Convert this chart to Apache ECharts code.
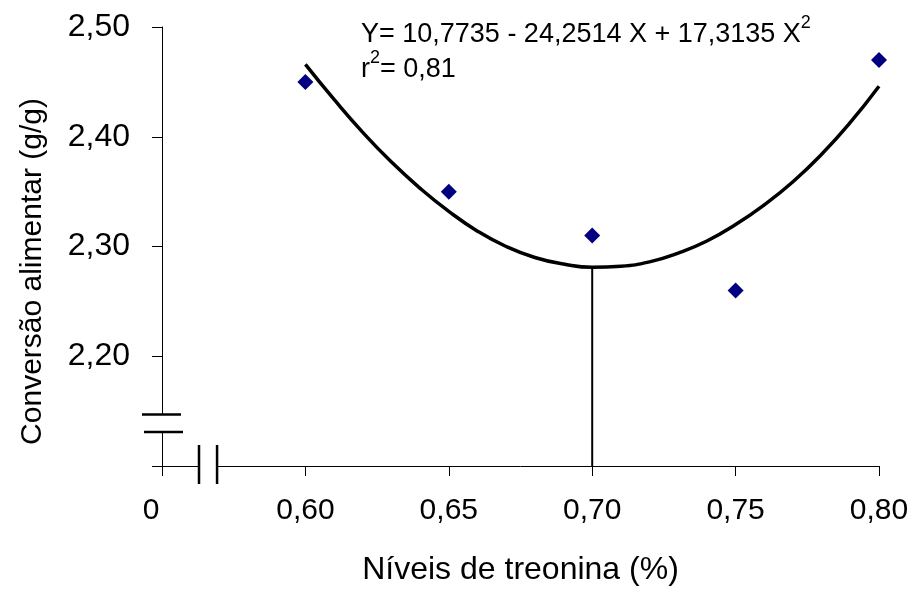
<!DOCTYPE html>
<html>
<head>
<meta charset="utf-8">
<script src="https://cdn.jsdelivr.net/npm/echarts@6.0.0/dist/echarts.min.js"></script>
<style>
  html, body { margin: 0; padding: 0; background: #fff; }
  #chart { width: 915px; height: 591px; }
</style>
</head>
<body>
<div id="chart"></div>
<script>
// observed means
const levels = [0.60, 0.65, 0.70, 0.75, 0.80];
const conversion = [2.45, 2.35, 2.31, 2.26, 2.47];

// fitted curve
const curveX = [0.60, 0.61, 0.62, 0.63, 0.64, 0.65, 0.66, 0.67, 0.68, 0.69, 0.70,
                0.71, 0.72, 0.73, 0.74, 0.75, 0.76, 0.77, 0.78, 0.79, 0.80];
const curveY = [2.466, 2.434, 2.404, 2.377, 2.353, 2.332, 2.314, 2.300, 2.290, 2.284, 2.281,
                2.282, 2.286, 2.294, 2.305, 2.320, 2.338, 2.359, 2.384, 2.413, 2.446];

// drop line at the optimum
const optimumX = [0.70, 0.70];
const optimumY = [2.28, 2.10];

// axis breaks (values where the break marks sit)
const yBreak = [2.147, 2.131];
const xBreak = [0.5629, 0.5692];

const FONT = 'Arial, "Liberation Sans", sans-serif';

const chart = echarts.init(document.getElementById('chart'));

chart.setOption({
  animation: false,
  backgroundColor: '#fff',
  title: {
    left: 356,
    top: 12,
    text: '{a|Y= 10,7735 - 24,2514 X + 17,3135 X}{s|2}\n{a|r}{s|2}{a|= 0,81}',
    textStyle: {
      fontWeight: 'normal',
      rich: {
        a: { fontFamily: FONT, fontSize: 27, fontWeight: 'normal', color: '#000', lineHeight: 35 },
        s: { fontFamily: FONT, fontSize: 18, fontWeight: 'normal', color: '#000', lineHeight: 13, padding: [0, 0, 22, 0] }
      }
    }
  },
  grid: { left: 162, right: 36, top: 27, bottom: 124 },
  xAxis: {
    type: 'value',
    min: 0.55,
    max: 0.80,
    interval: 0.05,
    name: 'Níveis de treonina (%)',
    nameLocation: 'middle',
    nameGap: 88,
    nameTextStyle: { fontFamily: FONT, fontSize: 32, color: '#000' },
    axisLine: { onZero: false, lineStyle: { color: '#000', width: 1 } },
    axisTick: { length: 10, lineStyle: { color: '#000', width: 1 } },
    splitLine: { show: false },
    axisLabel: {
      margin: 30,
      fontFamily: FONT,
      fontSize: 30,
      color: '#000',
      formatter: v => v < 0.575 ? '{z|0}' : v.toFixed(2).replace('.', ','),
      rich: { z: { fontFamily: FONT, fontSize: 30, color: '#000', padding: [0, 22, 0, 0] } }
    }
  },
  yAxis: {
    type: 'value',
    min: 2.10,
    max: 2.50,
    interval: 0.10,
    name: 'Conversão alimentar (g/g)',
    nameLocation: 'middle',
    nameGap: 114,
    nameTextStyle: { fontFamily: FONT, fontSize: 30, color: '#000', padding: [0, 50, 0, 0] },
    axisLine: { show: true, onZero: false, lineStyle: { color: '#000', width: 1 } },
    axisTick: { show: true, length: 10, lineStyle: { color: '#000', width: 1 } },
    splitLine: { show: false },
    axisLabel: {
      margin: 32,
      fontFamily: FONT,
      fontSize: 32,
      color: '#000',
      formatter: v => v < 2.15 ? '' : v.toFixed(2).replace('.', ',')
    }
  },
  series: [
    {
      type: 'line',
      data: optimumX.map((x, i) => [x, optimumY[i]]),
      showSymbol: false,
      lineStyle: { color: '#000', width: 2 },
      z: 2
    },
    {
      type: 'line',
      data: curveX.map((x, i) => [x, curveY[i]]),
      smooth: true,
      showSymbol: false,
      lineStyle: { color: '#000', width: 3.5 },
      z: 3
    },
    {
      type: 'scatter',
      data: levels.map((x, i) => [x, conversion[i]]),
      symbol: 'diamond',
      symbolSize: 16,
      itemStyle: { color: '#000080', opacity: 1 },
      z: 4
    }
  ]
});

// break marks on both axes
const origin = chart.convertToPixel({ gridIndex: 0 }, [0.55, 2.10]);
const yb = yBreak.map(v => chart.convertToPixel({ gridIndex: 0 }, [0.55, v])[1]);
const xb = xBreak.map(v => chart.convertToPixel({ gridIndex: 0 }, [v, 2.10])[0]);
const ax = origin[0], ay = origin[1];
const breakStyle = { stroke: '#000', lineWidth: 2.5 };

chart.setOption({
  graphic: [
    { type: 'rect', z: 100, shape: { x: ax - 4, y: yb[0], width: 8, height: yb[1] - yb[0] }, style: { fill: '#fff' } },
    { type: 'line', z: 101, shape: { x1: ax - 20, y1: yb[0], x2: ax + 19, y2: yb[0] }, style: breakStyle },
    { type: 'line', z: 101, shape: { x1: ax - 18, y1: yb[1], x2: ax + 21, y2: yb[1] }, style: breakStyle },
    { type: 'rect', z: 100, shape: { x: xb[0], y: ay - 4, width: xb[1] - xb[0], height: 8 }, style: { fill: '#fff' } },
    { type: 'line', z: 101, shape: { x1: xb[0], y1: ay - 21, x2: xb[0], y2: ay + 18 }, style: breakStyle },
    { type: 'line', z: 101, shape: { x1: xb[1], y1: ay - 21, x2: xb[1], y2: ay + 18 }, style: breakStyle }
  ]
});
</script>
</body>
</html>
